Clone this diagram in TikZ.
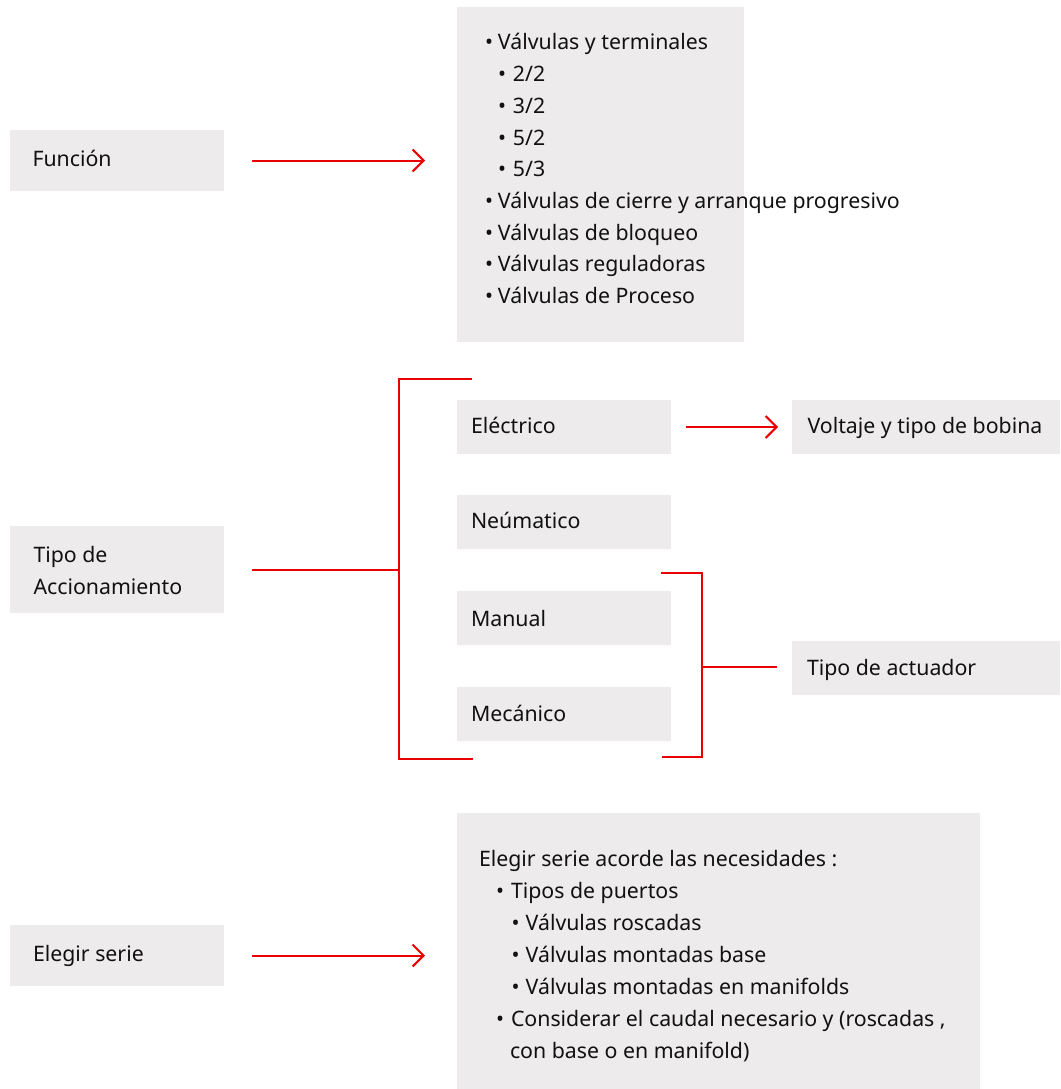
\documentclass[tikz,border=0pt]{standalone}
\usepackage{fontspec}
\setmainfont{Noto Sans}
\usetikzlibrary{arrows.meta}
\definecolor{boxc}{RGB}{237,235,236}
\definecolor{redc}{RGB}{235,0,0}
\definecolor{txtc}{RGB}{17,17,17}
\newcommand\blt[1]{\makebox[#1][l]{•}}
\begin{document}
\begin{tikzpicture}[x=1pt,y=-1pt,
  box/.style={fill=boxc, draw=none, inner sep=0pt, outer sep=0pt, anchor=north west},
  txt/.style={anchor=base west, inner sep=0pt, outer sep=0pt, text=txtc, font=\fontsize{21.3}{32}\selectfont},
  conn/.style={draw=redc, line width=2pt},
  arr/.style={conn, -{Straight Barb[length=11pt,width=22pt]}}]
\useasboundingbox (0,0) rectangle (1060,1089);

% boxes
\node[box, minimum width=214pt, minimum height=61pt] (fbox) at (10,130) {};
\node[box, minimum width=214pt, minimum height=87pt] (tbox) at (10,526) {};
\node[box, minimum width=214pt, minimum height=61pt] (ebox) at (10,925) {};
\node[box, minimum width=287pt, minimum height=335pt] (l1box) at (457,7) {};
\node[box, minimum width=523pt, minimum height=276pt] (l2box) at (457,813) {};
\node[box, minimum width=214pt, minimum height=54pt] (elec) at (457,400) {};
\node[box, minimum width=214pt, minimum height=54pt] (neum) at (457,495) {};
\node[box, minimum width=214pt, minimum height=54pt] (manu) at (457,591) {};
\node[box, minimum width=214pt, minimum height=54pt] (meca) at (457,687) {};
\node[box, minimum width=268pt, minimum height=54pt] (volt) at (792,400) {};
\node[box, minimum width=268pt, minimum height=54pt] (actu) at (792,641) {};

% box texts
\node[txt] (fx) at (32.5,166) {Función};
\node[txt] (tx1) at (33.5,562) {Tipo de};
\node[txt] (tx2) at (33.5,594) {Accionamiento};
\node[txt] (ex) at (33,961) {Elegir serie};
\node[txt] (elx) at (471,433) {Eléctrico};
\node[txt] (nex) at (471,528) {Neúmatico};
\node[txt] (max) at (471,626) {Manual};
\node[txt] (mex) at (471,721) {Mecánico};
\node[txt] (vox) at (807.5,433) {Voltaje y tipo de bobina};
\node[txt] (acx) at (807,675) {Tipo de actuador};

% top list
\node[txt] (t1) at (485.2,50) {\blt{12.8pt}Válvulas y terminales};
\node[txt] (t2) at (498.2,81.7) {\blt{14.8pt}2/2};
\node[txt] (t3) at (498.2,113.4) {\blt{14.8pt}3/2};
\node[txt] (t4) at (498.2,145.1) {\blt{14.8pt}5/2};
\node[txt] (t5) at (498.2,176.8) {\blt{14.8pt}5/3};
\node[txt] (t6) at (485.2,208.5) {\blt{12.8pt}Válvulas de cierre y arranque progresivo};
\node[txt] (t7) at (485.2,240.2) {\blt{12.8pt}Válvulas de bloqueo};
\node[txt] (t8) at (485.2,271.9) {\blt{12.8pt}Válvulas reguladoras};
\node[txt] (t9) at (485.2,303.6) {\blt{12.8pt}Válvulas de Proceso};

% bottom list
\node[txt] (s1) at (479,866) {Elegir serie acorde las necesidades :};
\node[txt] (s2) at (496,898) {\blt{15pt}Tipos de puertos};
\node[txt] (s3) at (511.5,930) {\blt{14.2pt}Válvulas roscadas};
\node[txt] (s4) at (511.5,962) {\blt{14.2pt}Válvulas montadas base};
\node[txt] (s5) at (511.5,994) {\blt{14.2pt}Válvulas montadas en manifolds};
\node[txt] (s6) at (496,1026) {\blt{15pt}Considerar el caudal necesario y (roscadas ,};
\node[txt] (s7) at (510,1058) {con base o en manifold)};

% connectors
\draw[arr, shorten <=28pt, shorten >=32pt] (fbox.east) -- (fbox.east -| l1box.west);
\draw[arr, shorten <=28pt, shorten >=32pt] (ebox.east) -- (ebox.east -| l2box.west);
\draw[arr, shorten <=15pt, shorten >=14pt] (elec.east) -- (elec.east -| volt.west);

\coordinate (b1) at (399,570);
\coordinate (b1t) at (472,379);
\coordinate (b1b) at (473,759);
\draw[conn, shorten <=28pt] (tbox.east) -- (tbox.east -| b1);
\draw[conn] (b1t) -- (b1t -| b1) -- (b1b -| b1) -- (b1b);

\coordinate (b2) at (702,667);
\coordinate (b2t) at (661,573);
\coordinate (b2b) at (662,757);
\draw[conn] (b2t) -- (b2t -| b2) -- (b2b -| b2) -- (b2b);
\draw[conn, shorten >=15pt] (b2) -- (b2 -| actu.west);
\end{tikzpicture}
\end{document}
